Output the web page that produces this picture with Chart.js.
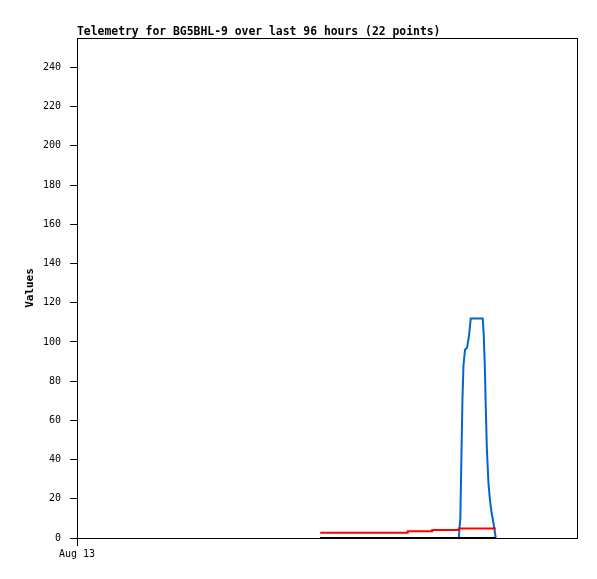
<!DOCTYPE html>
<html>
<head>
<meta charset="utf-8">
<script src="https://cdn.jsdelivr.net/npm/chart.js@4.4.1/dist/chart.umd.min.js"></script>
<style>
  html, body { margin: 0; padding: 0; background: #fff; }
  #wrap { width: 597px; height: 579px; }
</style>
</head>
<body>
<div id="wrap"><canvas id="telemetry"></canvas></div>
<script>
// Hours since Aug 13 00:00 (x axis covers 96 hours)
const hours = [46.7, 63.5, 68.2, 73.3, 73.6, 73.8, 74.0, 74.2, 74.5, 74.9, 75.3,
               75.6, 77.9, 78.1, 78.3, 78.5, 78.7, 79.0, 79.3, 79.6, 80.0, 80.4];
const blueValues  = [0, 0, 0, 0, 10, 40, 70, 88, 96, 97, 104,
                     112, 112, 103, 88, 65, 45, 28, 19, 13, 7, 0];
const redValues   = [2.7, 3.4, 4.1, 4.8, 4.8, 4.8, 4.8, 4.8, 4.8, 4.8, 4.8,
                     4.8, 4.8, 4.8, 4.8, 4.8, 4.8, 4.8, 4.8, 4.8, 4.8, 4.8];
const blackValues = [0, 0, 0, 0, 0, 0, 0, 0, 0, 0, 0,
                     0, 0, 0, 0, 0, 0, 0, 0, 0, 0, 0];
const xTickLabels = ['Aug 13'];
const titleText = 'Telemetry for BG5BHL-9 over last 96 hours (22 points)';

function pts(values) {
    return values.map((v, i) => ({ x: hours[i], y: v }));
}

// Box around the plot and the title above it
const frame = {
    id: 'frame',
    afterDraw(chart) {
        const a = chart.chartArea, ctx = chart.ctx;
        ctx.save();
        ctx.strokeStyle = '#000';
        ctx.lineWidth = 1;
        ctx.strokeRect(a.left + 0.5, a.top + 0.5, a.right - a.left, a.bottom - a.top);
        ctx.fillStyle = '#000';
        ctx.font = 'bold 11.4px "DejaVu Sans Mono"';
        ctx.textBaseline = 'alphabetic';
        ctx.fillText(titleText, a.left, a.top - 3);
        ctx.restore();
    }
};

const ctx = document.getElementById('telemetry').getContext('2d');
new Chart(ctx, {
    type: 'line',
    data: {
        datasets: [
            { data: pts(blackValues), borderColor: '#000000', borderWidth: 2 },
            { data: pts(redValues), borderColor: '#ff0000', borderWidth: 2, stepped: true },
            { data: pts(blueValues), borderColor: '#0066cc', borderWidth: 2 }
        ]
    },
    options: {
        responsive: true,
        maintainAspectRatio: false,
        animation: false,
        layout: { padding: { top: 38, right: 20, bottom: 0, left: 0 } },
        elements: { point: { radius: 0 }, line: { tension: 0 } },
        plugins: { legend: { display: false }, tooltip: { enabled: false } },
        scales: {
            x: {
                type: 'linear',
                min: 0,
                max: 96,
                afterBuildTicks(scale) { scale.ticks = [{ value: 0 }]; },
                afterFit(scale) { scale.height = 41; },
                ticks: {
                    callback: (v, i) => xTickLabels[i],
                    color: '#000',
                    font: { family: 'DejaVu Sans Mono', size: 10 },
                    padding: 2,
                    maxRotation: 0
                },
                grid: { drawOnChartArea: false, tickLength: 8, color: '#000' },
                border: { color: '#000' }
            },
            y: {
                min: 0,
                max: 255,
                afterFit(scale) { scale.width = 77; },
                ticks: {
                    stepSize: 20,
                    includeBounds: false,
                    color: '#000',
                    font: { family: 'DejaVu Sans Mono', size: 10 },
                    padding: 9
                },
                grid: { drawOnChartArea: false, tickLength: 7, color: '#000' },
                border: { color: '#000' },
                title: {
                    display: true,
                    text: 'Values',
                    color: '#000',
                    font: { family: 'DejaVu Sans Mono', size: 11, weight: 'bold' },
                    padding: { top: 24, bottom: 0 }
                }
            }
        }
    },
    plugins: [frame]
});
</script>
</body>
</html>
